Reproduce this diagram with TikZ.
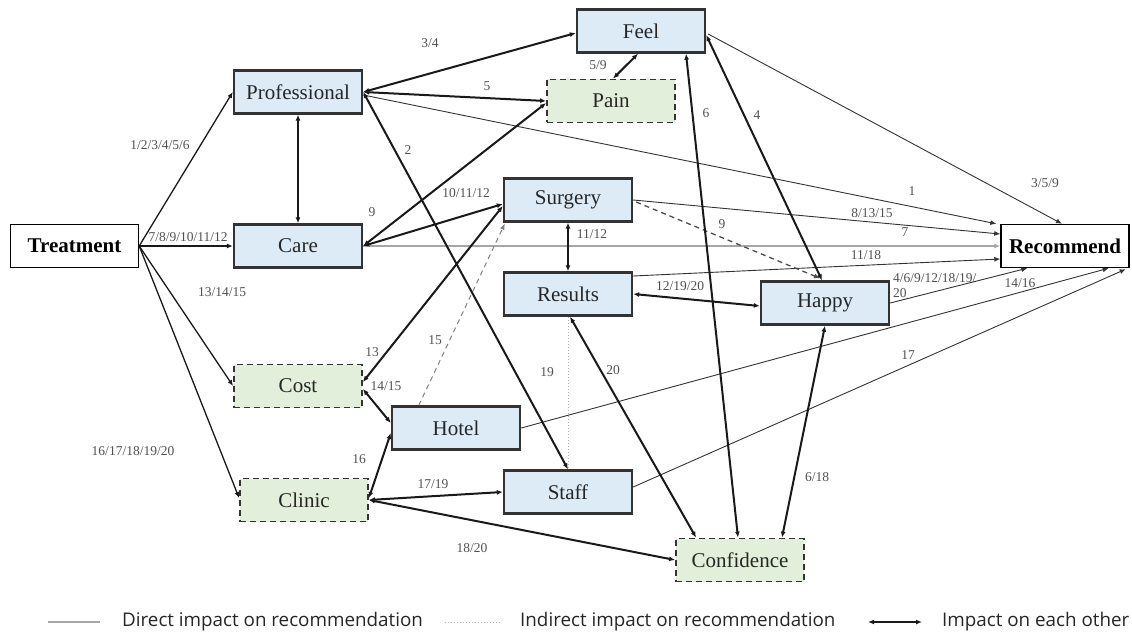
\documentclass[tikz,border=0pt]{standalone}
\usepackage{fontspec}
\setmainfont{Liberation Serif}
\newfontfamily\legendfont{Open Sans}
\usetikzlibrary{arrows.meta,calc}

\definecolor{boxblue}{HTML}{DDEBF7}
\definecolor{boxgreen}{HTML}{E2EFDA}
\definecolor{edgegray}{HTML}{333333}
\definecolor{labelgray}{HTML}{505050}

\begin{document}
\begin{tikzpicture}[x=1pt,y=-1pt,
  box/.style={draw=edgegray, line width=2.4pt, minimum width=128pt, minimum height=43pt,
    inner sep=0pt, font=\fontsize{21}{24}\selectfont, text=black!85},
  factor/.style={box, fill=boxblue},
  latent/.style={box, fill=boxgreen, dash pattern=on 6pt off 4pt, line width=1.8pt},
  endbox/.style={box, fill=white, line width=1.4pt, draw=black,
    font=\fontsize{21}{24}\selectfont\bfseries, text=black},
  tip/.style={-{Latex[length=6pt,width=5pt]}},
  mutual/.style={{Latex[length=6pt,width=5pt]}-{Latex[length=6pt,width=5pt]},
    line width=2pt, black!90},
  direct/.style={tip, line width=0.9pt, black!80},
  cause/.style={tip, line width=1.3pt, black!90},
  indirect/.style={dash pattern=on 5pt off 4pt, line width=1.3pt, black!70},
  faint/.style={dotted, line width=1pt, gray!60},
  lbl/.style={font=\fontsize{13.5}{15}\selectfont, text=labelgray, inner sep=0pt},
  legendtext/.style={font=\legendfont\fontsize{18.8}{20}\selectfont, text=black!85,
    inner sep=0pt, anchor=west},
]
\useasboundingbox (0,0) rectangle (1132,636);

% ---- factors ----
\node[endbox] (treat) at (74.5,246) {Treatment};
\node[factor] (prof) at (298,92) {Professional};
\node[factor] (care) at (298,246) {Care};
\node[factor] (feel) at (641,31) {Feel};
\node[latent] (pain) at (611,101) {Pain};
\node[factor] (surg) at (568,200) {Surgery};
\node[factor] (res) at (568,294) {Results};
\node[factor] (happy) at (825,303) {Happy};
\node[endbox] (rec) at (1065,246) {Recommend};
\node[latent] (cost) at (298,386) {Cost};
\node[factor] (hotel) at (456,428) {Hotel};
\node[latent] (clinic) at (304,500) {Clinic};
\node[factor] (staff) at (568,492) {Staff};
\node[latent] (conf) at (740,560) {Confidence};

% ---- treatment branches ----
\draw[cause] (treat.east) -- (prof.west);
\draw[cause] (treat.east) -- (care.west);
\draw[cause] (treat.east) -- (cost.west);
\draw[cause] (treat.east) -- ($(clinic.west)+(0,-2)$);

% ---- direct impact on recommendation ----
\draw[direct] ($(prof.east)+(0,3)$) -- ($(rec.north west)+(-4,0)$);
\draw[direct] ($(feel.east)+(2,3)$) -- ($(rec.north)+(-3,0)$);
\draw[direct] (surg.east) -- ($(rec.west)+(0,-12)$);
\draw[direct, gray!70, line width=1.8pt] (care.east) -- (rec.west);
\draw[direct] ($(res.east)+(0,-18)$) -- ($(rec.west)+(0,13)$);
\draw[direct] (happy.east) -- ($(rec.south west)+(27,0)$);
\draw[direct] (hotel.east) -- ($(rec.south east)+(-21,0)$);
\draw[direct] ($(staff.east)+(0,-5)$) -- ($(rec.south east)+(-4,1)$);

% ---- indirect impact ----
\draw[indirect, tip] ($(surg.east)+(3,2)$) -- ($(happy.north)+(-5,-2)$);
\draw[indirect, tip, black!50, line width=1pt] ($(hotel.north west)+(28,0)$) -- ($(surg.south west)+(2,1)$);
\draw[faint] (res.south) -- (staff.north);

% ---- impact on each other ----
\draw[mutual] (prof.south) -- (care.north);
\draw[mutual] (prof.east) -- ($(feel.west)+(0,2)$);
\draw[mutual] (prof.east) -- (pain.west);
\draw[mutual] (prof.east) -- (staff.north);
\draw[mutual] (care.east) -- ($(pain.west)+(0,2)$);
\draw[mutual] (care.east) -- ($(surg.west)+(0,4)$);
\draw[mutual] ($(surg.west)+(0,6)$) -- ($(cost.east)+(0,-4)$);
\draw[mutual] ($(cost.east)+(0,3)$) -- ($(hotel.west)+(0,-5)$);
\draw[mutual] ($(clinic.east)+(0,-2)$) -- ($(hotel.west)+(0,5)$);
\draw[mutual] (clinic.east) -- (staff.west);
\draw[mutual] (clinic.east) -- (conf.west);
\draw[mutual] (surg.south) -- (res.north);
\draw[mutual] (res.east) -- ($(happy.west)+(0,3)$);
\draw[mutual] ($(res.south)+(2,0)$) -- ($(conf.north west)+(21,0)$);
\draw[mutual] ($(feel.south)+(45,0)$) -- ($(conf.north)+(-2,0)$);
\draw[mutual] (happy.south) -- ($(conf.north)+(42,0)$);
\draw[mutual] ($(feel.east)+(0,4)$) -- ($(happy.north)+(-3,0)$);
\draw[mutual] ($(feel.south)+(-3,0)$) -- ($(pain.north)+(2,0)$);

% ---- path labels ----
\node[lbl] (l01) at (160,145) {1/2/3/4/5/6};
\node[lbl] (l02) at (188,237) {7/8/9/10/11/12};
\node[lbl] (l03) at (222,292) {13/14/15};
\node[lbl] (l04) at (133,451) {16/17/18/19/20};
\node[lbl] (l05) at (430,43) {3/4};
\node[lbl] (l06) at (487,86) {5};
\node[lbl] (l07) at (598,65) {5/9};
\node[lbl] (l08) at (408,150) {2};
\node[lbl] (l09) at (372,212) {9};
\node[lbl] (l10) at (466,193) {10/11/12};
\node[lbl] (l11) at (706,113) {6};
\node[lbl] (l12) at (757,115) {4};
\node[lbl] (l13) at (722,224) {9};
\node[lbl] (l14) at (592,234) {11/12};
\node[lbl] (l15) at (680,286) {12/19/20};
\node[lbl] (l16) at (372,352) {13};
\node[lbl] (l17) at (386,386) {14/15};
\node[lbl] (l18) at (435,340) {15};
\node[lbl] (l19) at (359,459) {16};
\node[lbl] (l20) at (433,484) {17/19};
\node[lbl] (l21) at (472,548) {18/20};
\node[lbl] (l22) at (547,372) {19};
\node[lbl] (l23) at (613,370) {20};
\node[lbl] (l24) at (817,477) {6/18};
\node[lbl] (l25) at (908,355) {17};
\node[lbl] (l26) at (912,191) {1};
\node[lbl] (l27) at (1045,183) {3/5/9};
\node[lbl] (l28) at (872,213) {8/13/15};
\node[lbl] (l29) at (905,232) {7};
\node[lbl] (l30) at (866,255) {11/18};
\node[lbl, anchor=west, align=left] (l31) at (893,286) {4/6/9/12/18/19/\\20};
\node[lbl] (l32) at (1020,283) {14/16};

% ---- legend ----
\coordinate (k1a) at (48,622);  \coordinate (k1b) at (100,622);
\coordinate (k2a) at (445,622); \coordinate (k2b) at (500,622);
\coordinate (k3a) at (868,622); \coordinate (k3b) at (922,622);
\draw[line width=2pt, gray!70] (k1a) -- (k1b);
\draw[faint] (k2a) -- (k2b);
\draw[mutual] (k3a) -- (k3b);
\node[legendtext] (t1) at (122,622) {Direct impact on recommendation};
\node[legendtext] (t2) at (520,622) {Indirect impact on recommendation};
\node[legendtext] (t3) at (942,622) {Impact on each other};
\end{tikzpicture}
\end{document}
